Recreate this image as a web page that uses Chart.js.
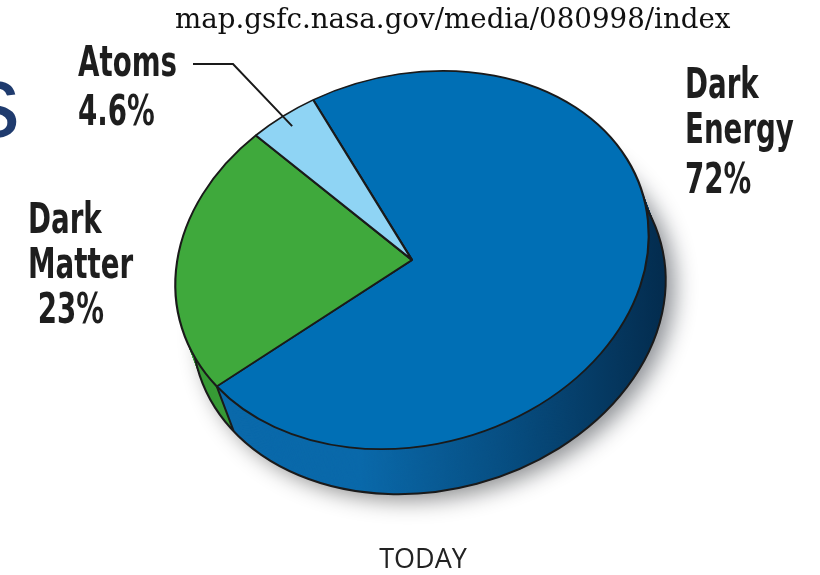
<!DOCTYPE html>
<html>
<head>
<meta charset="utf-8">
<title>Universe content</title>
<script src="https://cdn.jsdelivr.net/npm/chart.js@4.4.1/dist/chart.umd.min.js"></script>
<style>
  html, body { margin: 0; padding: 0; background: #fff; }
  #wrap { width: 820px; height: 575px; position: relative; }
</style>
</head>
<body>
<div id="wrap"><canvas id="pieChart"></canvas></div>
<script>
var sliceLabels = ['Dark Energy', 'Dark Matter', 'Atoms'];
var slicePercents = [72, 23, 4.6];
var faceColors = ['#006fb5', '#3fa93c', '#8fd4f4'];
var sideColors = ['#0a69aa', '#379a35', '#78c0e0'];

// where each label block sits: left x, then one baseline per line
var labelX = [685, 28, 78];
var labelBaselines = [[98, 143, 193], [233, 278, 323], [76, 125]];

// disc on screen: centre, radii, tilt and wall depth
var CX = 412, CY = 260, RX = 240, RY = 185;
var TILT = -15 * Math.PI / 180;
var DEPTH_X = 17, DEPTH_Y = 45;
var LINE = '#1a1a1a';

function faceTransform(ctx, arc, k) {
  ctx.translate(CX + DEPTH_X * k, CY + DEPTH_Y * k);
  ctx.rotate(TILT);
  ctx.scale(RX / arc.outerRadius, RY / arc.outerRadius);
  ctx.translate(-arc.x, -arc.y);
}

function slicePath(ctx, arc) {
  ctx.beginPath();
  ctx.moveTo(arc.x, arc.y);
  ctx.arc(arc.x, arc.y, arc.outerRadius, arc.startAngle, arc.endAngle);
  ctx.closePath();
}

// adds a point of the disc (angle, fraction of radius) to the current path
function discPoint(ctx, arc, angle, frac, k, move) {
  ctx.save();
  faceTransform(ctx, arc, k);
  var px = arc.x + Math.cos(angle) * arc.outerRadius * frac;
  var py = arc.y + Math.sin(angle) * arc.outerRadius * frac;
  if (move) ctx.moveTo(px, py); else ctx.lineTo(px, py);
  ctx.restore();
}

var tiltPlugin = {
  id: 'tilt',
  beforeDatasetsDraw: function(chart) {
    var ctx = chart.ctx;
    var arcs = chart.getDatasetMeta(0).data;
    var a0 = arcs[0];
    var steps = 46;

    // soft shadow under the disc
    ctx.save();
    faceTransform(ctx, a0, 1);
    ctx.shadowColor = 'rgba(0,0,0,0.45)';
    ctx.shadowBlur = 22;
    ctx.shadowOffsetX = 9;
    ctx.shadowOffsetY = 6;
    ctx.fillStyle = '#003458';
    ctx.beginPath();
    ctx.arc(a0.x, a0.y, a0.outerRadius, 0, Math.PI * 2);
    ctx.fill();
    ctx.restore();

    // wall: slices stacked from the bottom up
    for (var s = steps; s >= 1; s--) {
      arcs.forEach(function(arc, i) {
        ctx.save();
        faceTransform(ctx, arc, s / steps);
        ctx.fillStyle = sideColors[i];
        slicePath(ctx, arc);
        ctx.fill();
        ctx.restore();
      });
    }

    // wall gets darker toward the right
    ctx.save();
    ctx.globalCompositeOperation = 'source-atop';
    var g = ctx.createLinearGradient(360, 0, 675, 0);
    g.addColorStop(0, 'rgba(0,12,30,0)');
    g.addColorStop(0.45, 'rgba(0,12,30,0.28)');
    g.addColorStop(1, 'rgba(0,12,30,0.68)');
    ctx.fillStyle = g;
    ctx.fillRect(0, 0, chart.width, chart.height);
    ctx.restore();

    // bottom rim and the slice edges running down the wall
    ctx.save();
    ctx.beginPath();
    ctx.save();
    faceTransform(ctx, a0, 1);
    ctx.arc(a0.x, a0.y, a0.outerRadius, 0, Math.PI * 2);
    ctx.restore();
    arcs.forEach(function(arc) {
      discPoint(ctx, arc, arc.startAngle, 1, 0, true);
      discPoint(ctx, arc, arc.startAngle, 1, 1, false);
    });
    ctx.strokeStyle = LINE;
    ctx.lineWidth = 2;
    ctx.stroke();
    ctx.restore();

    // top face is drawn by the library under this transform
    ctx.save();
    faceTransform(ctx, a0, 0);
  },
  afterDatasetsDraw: function(chart) {
    chart.ctx.restore();
  },
  afterDraw: function(chart) {
    var ctx = chart.ctx;
    var arcs = chart.getDatasetMeta(0).data;
    ctx.save();

    // part of a heading cut off at the left edge
    ctx.fillStyle = '#1f3b6e';
    ctx.font = '104px "Liberation Sans", Arial, sans-serif';
    ctx.textAlign = 'right';
    ctx.textBaseline = 'alphabetic';
    ctx.fillText('s', 20, 137);

    // source line
    ctx.textAlign = 'left';
    ctx.fillStyle = '#111';
    var url = 'map.gsfc.nasa.gov/media/080998/index';
    ctx.font = '26px "DejaVu Serif", serif';
    var size = 26 * 555 / ctx.measureText(url).width;
    ctx.font = size.toFixed(1) + 'px "DejaVu Serif", serif';
    ctx.fillText(url, 175, 28);

    // slice labels in a narrow bold face
    ctx.fillStyle = '#1e1e1e';
    ctx.font = 'bold 43px "Liberation Sans Narrow", "DejaVu Sans Condensed", "Liberation Sans", sans-serif';
    var squeeze = 99 / ctx.measureText('Atoms').width;
    sliceLabels.forEach(function(name, i) {
      var lines = name.split(' ');
      lines.push((i === 1 ? ' ' : '') + slicePercents[i] + '%');
      lines.forEach(function(line, j) {
        ctx.save();
        ctx.translate(labelX[i], labelBaselines[i][j]);
        ctx.scale(squeeze, 1);
        ctx.fillText(line, 0, 0);
        ctx.restore();
      });
    });

    // leader from the Atoms label to its slice
    var at = arcs[2];
    ctx.beginPath();
    ctx.moveTo(193, 64);
    ctx.lineTo(233, 64);
    discPoint(ctx, at, (at.startAngle + at.endAngle) / 2, 0.93, 0, false);
    ctx.strokeStyle = LINE;
    ctx.lineWidth = 2;
    ctx.stroke();

    // caption under the disc
    ctx.fillStyle = '#222';
    ctx.font = '27px "Open Sans", "Liberation Sans", sans-serif';
    ctx.textAlign = 'center';
    ctx.fillText('TODAY', 423, 568);
    ctx.restore();
  }
};

new Chart(document.getElementById('pieChart'), {
  type: 'pie',
  data: {
    labels: sliceLabels,
    datasets: [{
      data: slicePercents,
      backgroundColor: faceColors,
      borderColor: LINE,
      borderWidth: 2.6
    }]
  },
  options: {
    responsive: true,
    maintainAspectRatio: false,
    animation: false,
    rotation: 347,
    layout: { padding: 0 },
    plugins: {
      legend: { display: false },
      tooltip: { enabled: false }
    }
  },
  plugins: [tiltPlugin]
});
</script>
</body>
</html>
